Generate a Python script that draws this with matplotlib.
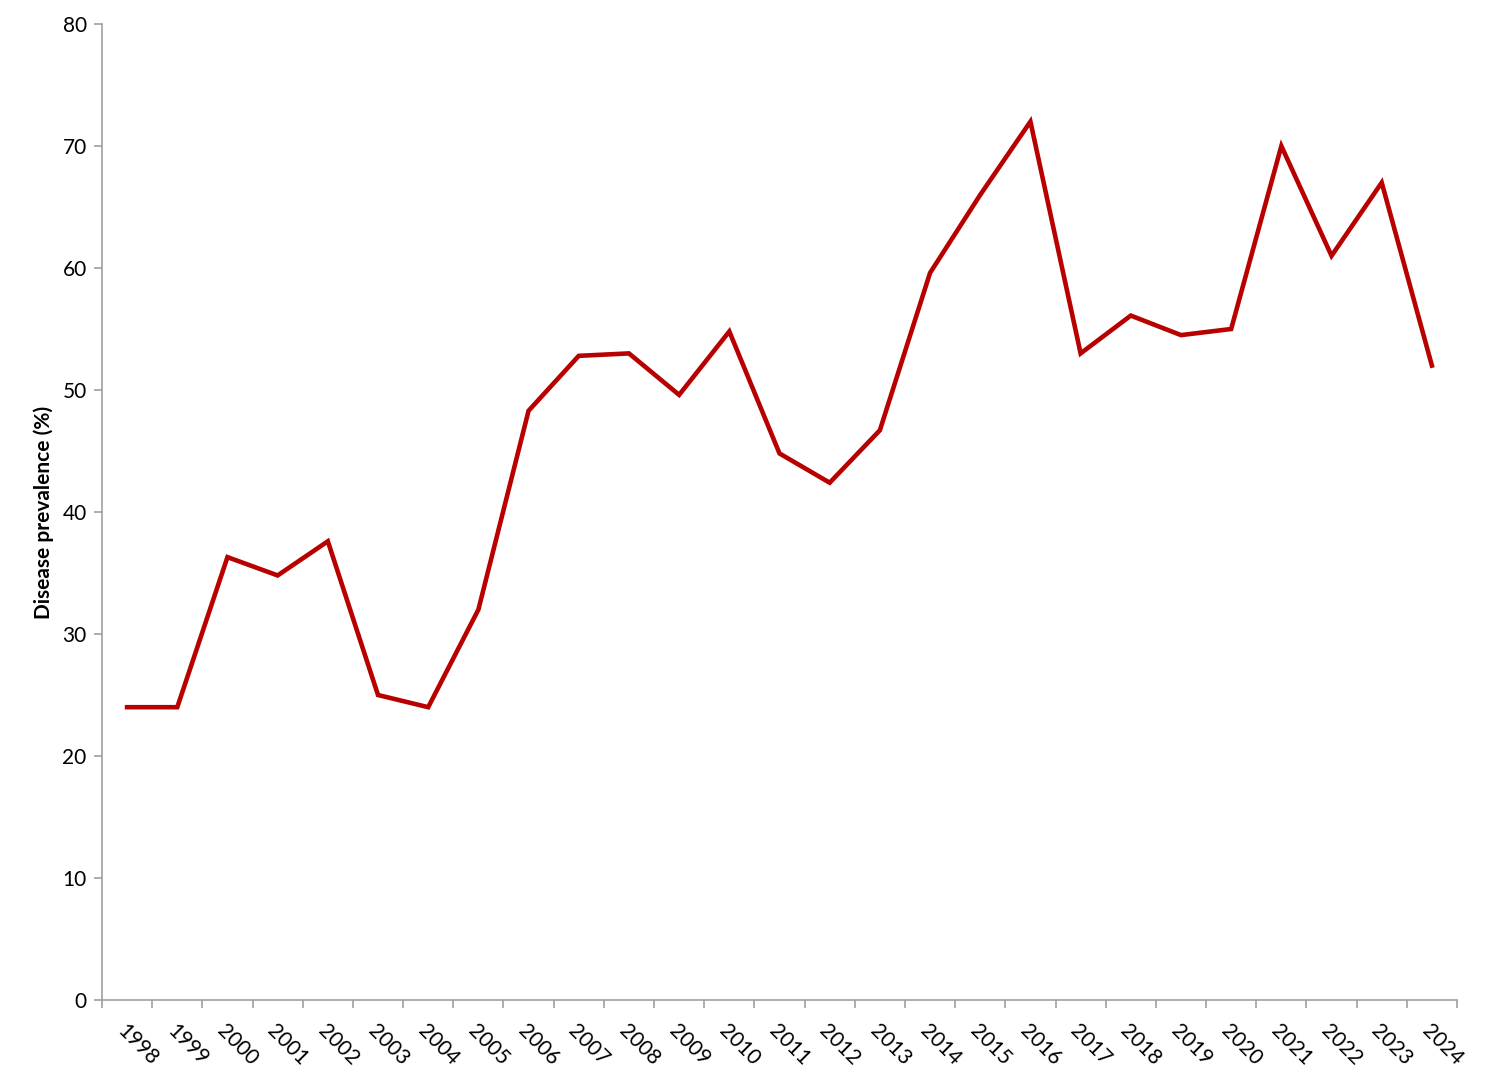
import matplotlib.pyplot as plt
import numpy as np

plt.rcParams['font.family'] = ['Lato', 'DejaVu Sans']

years = [str(y) for y in range(1998, 2025)]
prevalence = [24.0, 24.0, 36.3, 34.8, 37.6, 25.0, 24.0, 32.0, 48.3, 52.8,
              53.0, 49.6, 54.8, 44.8, 42.4, 46.7, 59.6, 66.0, 72.0, 53.0,
              56.1, 54.5, 55.0, 70.0, 61.0, 67.0, 52.0]

fig = plt.figure(figsize=(14.85, 10.78), dpi=100)
ax = fig.add_axes([102/1485, 1-1000/1078, (1457-102)/1485, (1000-24)/1078])

x = np.arange(len(years))
ax.plot(x, prevalence, color='#B80000', lw=3.3, solid_joinstyle='miter')

ax.set_xlim(-0.5, len(years) - 0.5)
ax.set_ylim(0, 80)
ax.set_yticks(range(0, 81, 10))

ax.set_xticks(x)
ax.set_xticklabels(years, rotation=-45, ha='left', va='top', rotation_mode='anchor')
ax.set_xticks(np.arange(-0.5, len(years)), minor=True)
ax.tick_params(axis='x', which='major', length=0, pad=15, labelsize=15)
ax.tick_params(axis='x', which='minor', length=6, width=1.2, color='#A0A0A0', direction='out')
ax.tick_params(axis='y', length=6, width=1.2, color='#A0A0A0', labelsize=15, pad=5)

for s in ['top', 'right']:
    ax.spines[s].set_visible(False)
for s in ['left', 'bottom']:
    ax.spines[s].set_color('#A0A0A0')
    ax.spines[s].set_linewidth(1.2)

ax.set_ylabel('Disease prevalence (%)', fontsize=15, fontweight='bold', labelpad=6)

fig.savefig('out.png', dpi=100)
